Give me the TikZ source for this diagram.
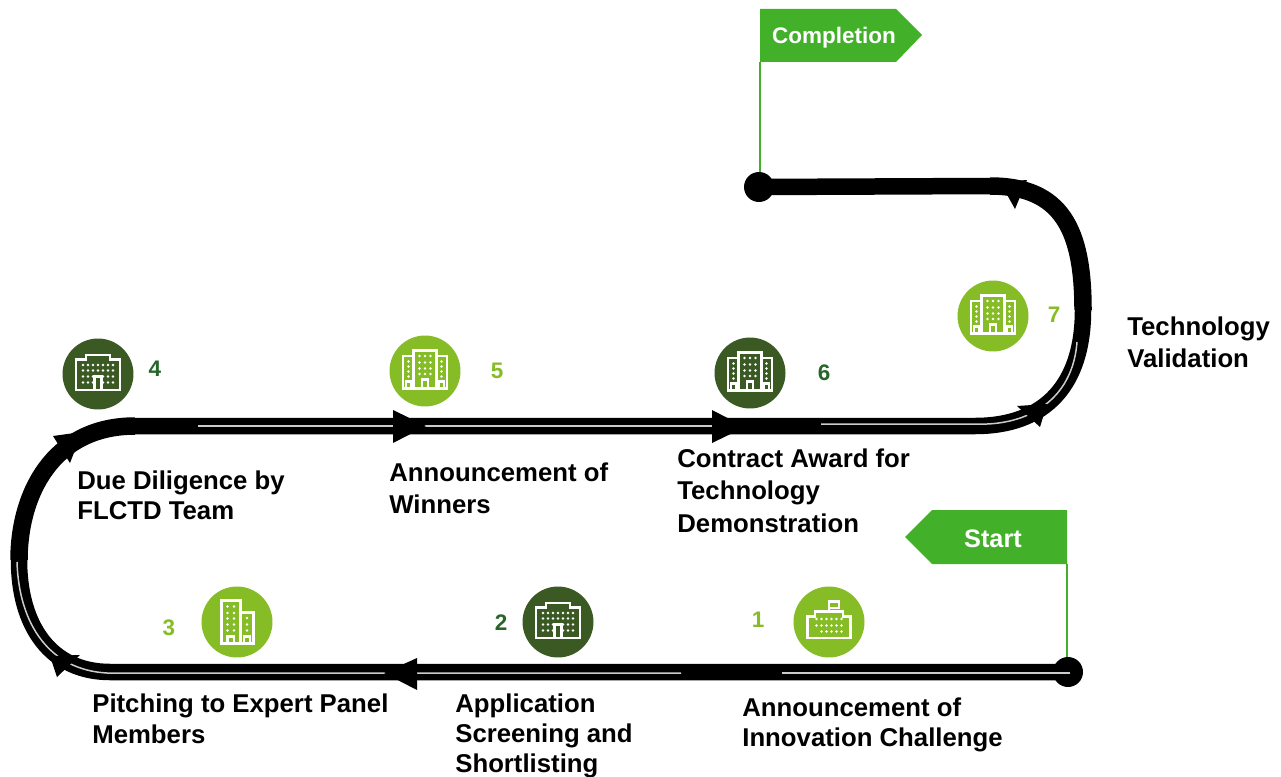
\documentclass[tikz,border=0pt]{standalone}
\usepackage{fontspec}
\setmainfont{Liberation Sans}
\usepackage{tikz}
\usetikzlibrary{positioning,calc}

\definecolor{flaggreen}{HTML}{43B02A}
\definecolor{lightgreen}{HTML}{86BC25}
\definecolor{darkgreen}{HTML}{3B5A23}
\definecolor{numdark}{HTML}{26662A}

\tikzset{
	steptext/.style={font=\fontsize{14.65}{18.5}\selectfont\bfseries,align=left,anchor=north west,inner sep=0pt,text=black},
	stepnum/.style={font=\fontsize{12.8}{15}\selectfont\bfseries,inner sep=0pt},
	lightcircle/.style={circle,fill=lightgreen,minimum size=1.42cm,inner sep=0pt},
	darkcircle/.style={circle,fill=darkgreen,minimum size=1.42cm,inner sep=0pt},
	flagtext/.style={font=\fontsize{12.8}{16}\selectfont\bfseries,text=white,inner sep=0pt},
	track/.style={line width=0.33cm,black},
	trackthick/.style={line width=0.35cm,black},
	shine/.style={line width=0.03cm,white!80!black},
	dot/.style={circle,fill=black,minimum size=0.6cm,inner sep=0pt},
	pole/.style={draw=flaggreen,line width=0.03cm},
	tip/.style={fill=black,draw=none},
	wall/.style={draw=white,line width=0.05cm,fill=none},
	icon/.style={x=1cm,y=1cm}
}

% windows of the little buildings
\newcommand{\windows}[2]{
	\foreach \i in {#1} \foreach \j in {#2}
		\fill[white] (\i,\j) circle (0.028);
}
\newcommand{\towersicon}[1]{
	\begin{scope}[shift={(#1)},icon]
		\draw[wall] (-0.23,0.30) -- (-0.44,0.30) -- (-0.44,-0.35) -- (0.44,-0.35) -- (0.44,0.30) -- (0.23,0.30);
		\draw[wall] (-0.23,-0.35) -- (-0.23,0.41) -- (0.23,0.41) -- (0.23,-0.35);
		\windows{-0.11,0,0.11}{0.30,0.17,0.05,-0.06}
		\windows{-0.33}{0.19,0.09,-0.01,-0.11}
		\windows{0.33}{0.19,0.09,-0.01,-0.11}
		\draw[wall] (-0.06,-0.35) -- (-0.06,-0.17) -- (0.06,-0.17) -- (0.06,-0.35);
		\draw[wall] (-0.38,-0.35) -- (-0.38,-0.21) -- (-0.28,-0.21) -- (-0.28,-0.35);
		\draw[wall] (0.38,-0.35) -- (0.38,-0.21) -- (0.28,-0.21) -- (0.28,-0.35);
	\end{scope}
}
\newcommand{\officeicon}[1]{
	\begin{scope}[shift={(#1)},icon]
		\draw[wall] (-0.44,-0.32) -- (0.44,-0.32) -- (0.44,0.29) -- (0.24,0.29) -- (0.24,0.38) -- (-0.24,0.38) -- (-0.24,0.29) -- (-0.44,0.29) -- cycle;
		\windows{-0.30,-0.20,-0.10,0,0.10,0.20,0.30}{0.18,0.07}
		\windows{-0.30,-0.20,-0.10,0.10,0.20,0.30}{-0.05,-0.17}
		\draw[wall] (-0.07,-0.32) -- (-0.07,-0.05) -- (0.07,-0.05) -- (0.07,-0.32);
	\end{scope}
}
\newcommand{\twintowericon}[1]{
	\begin{scope}[shift={(#1)},icon]
		\draw[wall] (-0.31,-0.43) rectangle (0.07,0.43);
		\draw[wall] (0.07,0.19) -- (0.33,0.19) -- (0.33,-0.43) -- (0.07,-0.43);
		\windows{-0.19,-0.06}{0.31,0.18,0.07,-0.05,-0.17}
		\windows{0.20}{0.08,-0.05,-0.17}
		\draw[wall] (-0.19,-0.43) -- (-0.19,-0.29) -- (-0.06,-0.29) -- (-0.06,-0.43);
		\draw[wall] (0.14,-0.43) -- (0.14,-0.29) -- (0.26,-0.29) -- (0.26,-0.43);
	\end{scope}
}
\newcommand{\schoolicon}[1]{
	\begin{scope}[shift={(#1)},icon]
		\draw[wall] (-0.43,-0.32) -- (0.43,-0.32) -- (0.43,0.11) -- (0.28,0.11) -- (0.28,0.21) -- (-0.28,0.21) -- (-0.28,0.11) -- (-0.43,0.11) -- cycle;
		\draw[wall] (0,0.21) -- (0,0.41) -- (0.2,0.41) -- (0.2,0.28) -- (0,0.28);
		\windows{-0.25,-0.15,-0.05,0.05,0.15,0.25}{0.06,-0.07}
		\windows{-0.15,-0.05,0.05,0.15,0.25}{-0.19}
	\end{scope}
}

\begin{document}
\begin{tikzpicture}[x=0.02cm,y=-0.02cm]
	\useasboundingbox (0,0) rectangle (1281,777);

	% the road
	\node[dot] (begin) at (1068,672) {};
	\node[dot] (finish) at (759,187) {};
	\coordinate (lowleft) at (110,672);
	\coordinate (leftmost) at (19,560);
	\coordinate (midleft) at (135,426);
	\coordinate (midright) at (975,426);
	\coordinate (bend) at (1083,310);
	\coordinate (topright) at (990,186);

	\draw[track] (begin.center) -- (lowleft) .. controls (50,672) and (19,625) .. (leftmost);
	\draw[trackthick] (leftmost) .. controls (19,495) and (52,426) .. (midleft);
	\draw[track] (midleft) -- (midright) .. controls (1045,426) and (1083,385) .. (bend);
	\draw[trackthick] (bend) .. controls (1083,230) and (1062,186) .. (topright);
	\draw[track] (topright) -- (finish.center);

	% thin light lines along the road
	\draw[shine] (1070,673) -- (782,673);
	\draw[shine] (681,673) -- (107,673) .. controls (50,670) and (19,625) .. (17,562);
	\draw[shine] (198,426) -- (720,426);
	\draw[shine] (821,424) -- (987,424) .. controls (1035,422) and (1073,395) .. (1077,342);

	% arrow heads
	\fill[tip] (393,410) -- (426,426) -- (393,443) -- cycle;
	\fill[tip] (712,410) -- (745,427) -- (712,443) -- cycle;
	\fill[tip] (417,658) -- (384,673) -- (417,690) -- cycle;
	\fill[tip] (53,436) -- (82,432) -- (70,463) -- cycle;
	\fill[tip] (1017,406) -- (1047,404) -- (1040,427) -- cycle;
	\fill[tip] (1027,180) -- (1000,182) -- (1015,209) -- cycle;
	\fill[tip] (50,656) -- (80,655) -- (57,677) -- cycle;

	% flags
	\coordinate (startfoot) at (1067,564);
	\coordinate (endfoot) at (760,62);
	\fill[flaggreen] (1067,510) -- (932,510) -- (905,537) -- (932,564) -- (startfoot) -- cycle;
	\node[flagtext,font=\fontsize{14.4}{16}\selectfont\bfseries] (startflag) at (993,539) {Start};
	\fill[flaggreen] (760,9) -- (896,9) -- (922,35) -- (896,62) -- (endfoot) -- cycle;
	\node[flagtext] (endflag) at (834,38) {Completion};
	\draw[pole] (startfoot) -- (startfoot |- begin.north);
	\draw[pole] (endfoot) -- (endfoot |- finish.north);

	% steps
	\node[lightcircle] (c1) at (829,622) {};
	\node[darkcircle] (c2) at (558,622) {};
	\node[lightcircle] (c3) at (237,622) {};
	\node[darkcircle] (c4) at (98,374) {};
	\node[lightcircle] (c5) at (425,371) {};
	\node[darkcircle] (c6) at (750,373) {};
	\node[lightcircle] (c7) at (993,316) {};
	\schoolicon{c1}
	\officeicon{c2}
	\twintowericon{c3}
	\officeicon{c4}
	\towersicon{c5}
	\towersicon{c6}
	\towersicon{c7}

	\node[stepnum,text=lightgreen] (n1) at (758,620) {1};
	\node[stepnum,text=numdark] (n2) at (501,623) {2};
	\node[stepnum,text=lightgreen] (n3) at (169,628) {3};
	\node[stepnum,text=numdark] (n4) at (155,369) {4};
	\node[stepnum,text=lightgreen] (n5) at (497,371) {5};
	\node[stepnum,text=numdark] (n6) at (824,373) {6};
	\node[stepnum,text=lightgreen] (n7) at (1054,315) {7};

	\node[steptext] (t1) at (742,697) {Announcement of\\[-1pt]Innovation Challenge};
	\node[steptext] (t2) at (455,693) {Application\\[-1.2pt]Screening and\\[-1.2pt]Shortlisting};
	\node[steptext] (t3) at (92,693) {Pitching to Expert Panel\\[-0.3pt]Members};
	\node[steptext] (t4) at (77,470) {Due Diligence by\\[-1pt]FLCTD Team};
	\node[steptext] (t5) at (389,462) {Announcement of\\Winners};
	\node[steptext] (t6) at (677,448) {Contract Award for\\Technology\\Demonstration};
	\node[steptext] (t7) at (1127,316) {Technology\\Validation};
\end{tikzpicture}
\end{document}
